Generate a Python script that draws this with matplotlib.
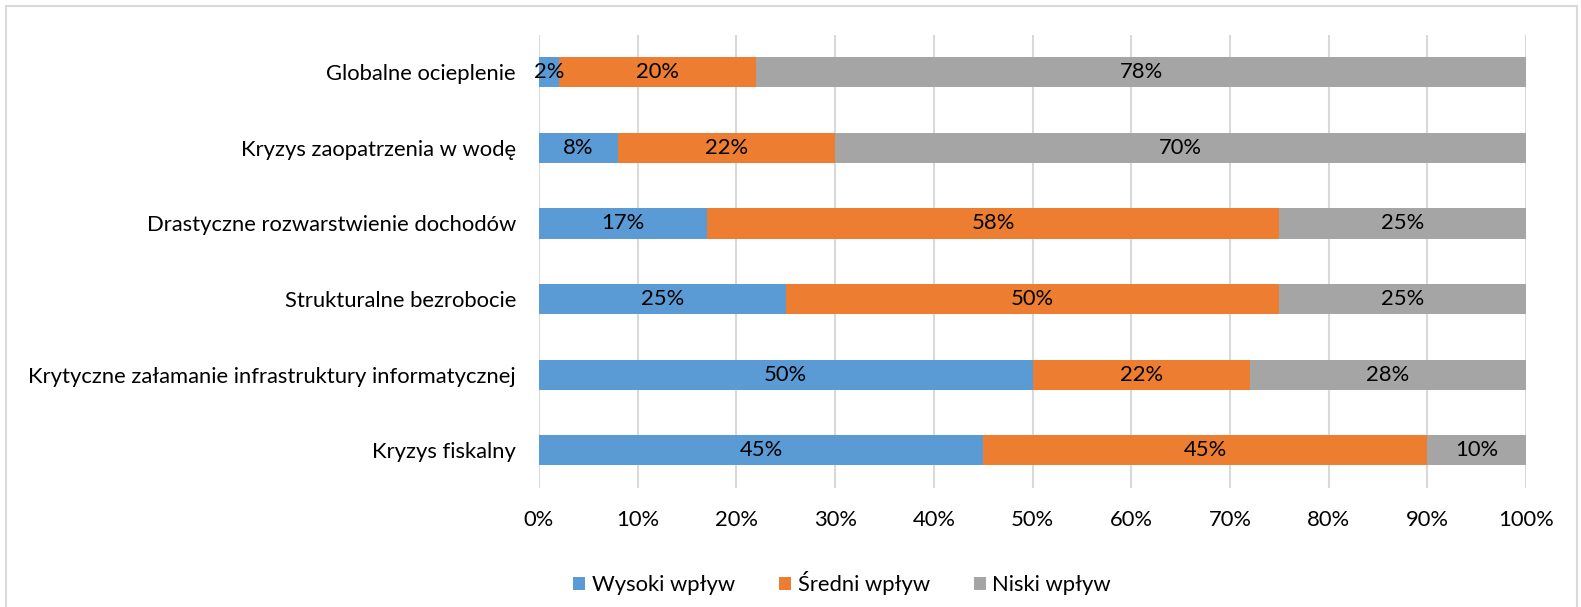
import matplotlib.pyplot as plt
import matplotlib.patches as mpatches
import numpy as np

plt.rcParams['font.family'] = ['Lato', 'DejaVu Sans']

categories = ["Globalne ocieplenie",
              "Kryzys zaopatrzenia w wodę",
              "Drastyczne rozwarstwienie dochodów",
              "Strukturalne bezrobocie",
              "Krytyczne załamanie infrastruktury informatycznej",
              "Kryzys fiskalny"]
wysoki = [2, 8, 17, 25, 50, 45]
sredni = [20, 22, 58, 50, 22, 45]
niski = [78, 70, 25, 25, 28, 10]
series_names = ["Wysoki wpływ", "Średni wpływ", "Niski wpływ"]
colors = ["#5b9bd5", "#ed7d31", "#a5a5a5"]

FS = 15.8
W, H = 1581, 607
fig = plt.figure(figsize=(W / 100, H / 100), dpi=100)
ax = fig.add_axes([539 / W, 1 - 488 / H, (1526 - 539) / W, (488 - 34.5) / H])

# chart border like in excel
fig.patches.append(mpatches.Rectangle((6 / W, -0.1), (1577 - 6) / W, 1.1 - 6 / H,
                                      transform=fig.transFigure, fill=False,
                                      edgecolor="#d9d9d9", linewidth=1.5))

y = np.arange(len(categories))
left = np.zeros(len(categories))
for vals, name, col in zip([wysoki, sredni, niski], series_names, colors):
    vals = np.array(vals)
    bars = ax.barh(y, vals, left=left, height=0.4, color=col, label=name, zorder=3)
    for b, v in zip(bars, vals):
        ax.text(b.get_x() + b.get_width() / 2, b.get_y() + b.get_height() / 2,
                "{}%".format(v), ha="center", va="center", fontsize=FS,
                color="#000000", zorder=4)
    left += vals

ax.set_xlim(0, 100)
ax.set_ylim(len(categories) - 0.5, -0.5)
ax.set_yticks(y)
ax.set_yticklabels(categories)
ax.set_xticks(np.arange(0, 101, 10))
ax.set_xticklabels(["{}%".format(t) for t in range(0, 101, 10)])
ax.tick_params(axis="both", length=0, labelsize=FS, colors="#000000")
ax.tick_params(axis="y", pad=16.5)
ax.tick_params(axis="x", pad=16)
ax.grid(axis="x", color="#d9d9d9", linewidth=1.5, zorder=0)
for s in ax.spines.values():
    s.set_visible(False)

fig.legend(loc="center", bbox_to_anchor=(842 / W, 1 - 583 / H), ncol=3,
           frameon=False, fontsize=FS, handlelength=0.55, handleheight=0.55,
           handletextpad=0.3, columnspacing=2.0)

fig.savefig("out.png", dpi=100)
